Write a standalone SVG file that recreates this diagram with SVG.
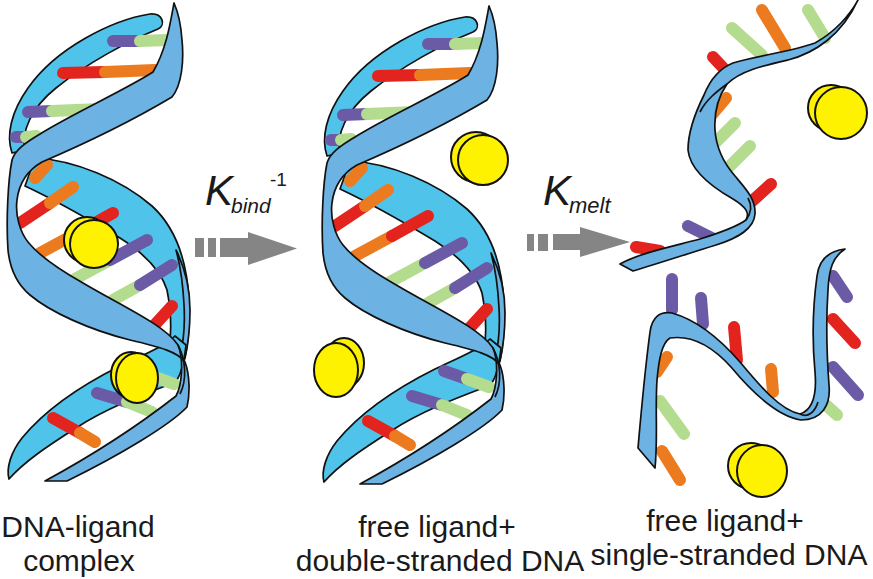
<svg xmlns="http://www.w3.org/2000/svg" width="873" height="579" viewBox="0 0 873 579">
<defs>
<style>
.cy{fill:#50c3ea;stroke:#111;stroke-width:1.7;stroke-linejoin:round}
.bl{fill:#6cb2e2;stroke:#111;stroke-width:1.7;stroke-linejoin:round}
.ln{fill:none;stroke:#111;stroke-width:1.7}
.b{fill:none;stroke-width:12;stroke-linecap:round}
.p{stroke:#6b5ba7}.g{stroke:#b4dc8e}.r{stroke:#e2231e}.o{stroke:#ec7b1f}
.lig{fill:#fff200;stroke:#111;stroke-width:2}
.lbl{font-family:"Liberation Sans",Arial,sans-serif;font-size:30px;fill:#1a1a1a;text-anchor:middle}
.k{font-family:"Liberation Sans",Arial,sans-serif;font-style:italic;fill:#1a1a1a}
.sup{font-family:"Liberation Sans",Arial,sans-serif;fill:#1a1a1a}
.arr{fill:#858585}
</style>
<g id="helix">
<path class="cy" d="M150,14 C112,20 56,48 28,88 C11,112 6,135 12,153 L25,150 C21,132 31,108 56,88 C86,64 126,42 158,29 C166,25 163,13 150,14 Z"/>
<path class="cy" d="M35,158 C75,160 122,180 152,206 C176,228 187,262 189,300 C190,325 188,345 184,362 L168,358 C172,335 171,310 167,290 C160,268 142,252 120,238 C90,220 55,200 25,186 Z"/>
<path class="bl" d="M176,250 C185,268 190,290 190,310 C190,330 188,345 185,358 L180,356 C184,340 185,322 184,305 C183,285 181,268 176,250 Z"/>
<path class="cy" d="M186,345 C184,362 182,372 176,382 C150,392 110,406 76,428 C46,447 24,462 9,479 C6,468 11,452 22,438 C45,410 82,385 120,366 C145,354 165,346 175,336 Z"/>
<line class="b p" x1="113" y1="41" x2="140" y2="41"/><line class="b g" x1="140" y1="41" x2="168" y2="40"/>
<line class="b r" x1="63" y1="73" x2="105" y2="72"/><line class="b o" x1="105" y1="72" x2="155" y2="70"/>
<line class="b p" x1="28" y1="112" x2="52" y2="111"/><line class="b g" x1="52" y1="111" x2="100" y2="109"/>
<line class="b p" x1="16" y1="137" x2="26" y2="137"/><line class="b g" x1="26" y1="137" x2="36" y2="136"/>
<line class="b o" x1="35" y1="178" x2="47" y2="165"/>
<line class="b r" x1="20" y1="223" x2="50" y2="203"/><line class="b o" x1="50" y1="203" x2="73" y2="187"/>
<line class="b o" x1="40" y1="253" x2="77" y2="233"/><line class="b r" x1="77" y1="233" x2="113" y2="213"/>
<line class="b g" x1="73" y1="280" x2="110" y2="260"/><line class="b p" x1="110" y1="260" x2="147" y2="240"/>
<line class="b g" x1="113" y1="300" x2="140" y2="285"/><line class="b p" x1="140" y1="285" x2="172" y2="265"/>
<line class="b r" x1="150" y1="330" x2="172" y2="306"/>
<line class="b p" x1="129" y1="368" x2="152" y2="376"/><line class="b g" x1="152" y1="376" x2="174" y2="384"/>
<line class="b p" x1="97" y1="393" x2="127" y2="402"/><line class="b g" x1="127" y1="402" x2="152" y2="412"/>
<line class="b r" x1="53" y1="418" x2="80" y2="433"/><line class="b o" x1="80" y1="433" x2="95" y2="442"/>
<path class="bl" d="M174,3 C170,25 166,50 153,72 C125,90 70,115 40,134 C25,143 15,150 12,160 C8,180 6,220 8,250 C10,270 18,285 30,295 C50,312 90,330 130,340 C160,347 178,352 185,362 C190,375 190,395 187,407 C170,425 120,455 67,481 L45,481 C80,462 130,432 176,396 C182,385 184,360 178,345 C165,325 120,305 83,283 C60,270 40,257 28,242 C20,232 15,215 17,200 C19,183 28,170 42,162 C70,150 125,125 172,97 C182,85 184,60 182,40 C181,25 178,12 174,3 Z"/>
<path class="ln" d="M178,345 C186,360 187,380 180,394"/>
</g>
</defs>
<g id="complex">
<use href="#helix"/>
<ellipse class="lig" cx="87" cy="240" rx="23" ry="23"/>
<ellipse class="lig" cx="94" cy="244" rx="24" ry="24"/>
<ellipse class="lig" cx="131" cy="375" rx="20" ry="23"/>
<ellipse class="lig" cx="137" cy="378" rx="21" ry="25"/>
<text class="lbl" x="78" y="537">DNA-ligand</text>
<text class="lbl" x="79" y="571">complex</text>
</g>
<g id="dsDNA">
<use href="#helix" transform="translate(315,3)"/>
<ellipse class="lig" cx="476" cy="157" rx="25" ry="25"/>
<ellipse class="lig" cx="483" cy="160" rx="25" ry="25"/>
<ellipse class="lig" cx="344" cy="363" rx="20" ry="25"/>
<ellipse class="lig" cx="336" cy="370" rx="22" ry="27"/>
<text class="lbl" x="437" y="537">free ligand+</text>
<text class="lbl" x="440" y="571">double-stranded DNA</text>
</g>
<g id="ssDNA">
<line class="b g" x1="732" y1="28" x2="762" y2="55"/>
<line class="b o" x1="762" y1="10" x2="785" y2="48"/>
<line class="b g" x1="808" y1="10" x2="825" y2="38"/>
<line class="b r" x1="713" y1="57" x2="728" y2="73"/>
<line class="b o" x1="726" y1="98" x2="710" y2="117"/>
<line class="b g" x1="735" y1="123" x2="715" y2="143"/>
<line class="b g" x1="750" y1="146" x2="730" y2="166"/>
<line class="b r" x1="771" y1="184" x2="750" y2="203"/>
<line class="b p" x1="688" y1="226" x2="712" y2="238"/>
<line class="b r" x1="636" y1="247" x2="660" y2="251"/>
<path class="bl" d="M858,0 C850,15 835,32 815,43 C790,52 755,56 733,63 C718,69 710,80 704,95 C694,115 688,132 688,150 C690,170 710,186 733,199 C746,207 750,213 746,220 C735,228 716,234 700,239 C670,247 640,253 620,264 L633,271 C660,263 690,253 716,245 C738,238 754,229 755,214 C756,199 745,188 735,176 C722,161 716,146 715,130 C714,114 718,97 727,84 C740,71 762,66 788,60 C815,53 842,35 858,0 Z"/>
<path class="ln" d="M727,84 C716,92 706,100 700,112"/>
<path class="ln" d="M746,220 C752,212 752,205 748,198"/>
<line class="b p" x1="672" y1="279" x2="672" y2="310"/>
<line class="b p" x1="701" y1="298" x2="703" y2="324"/>
<line class="b r" x1="734" y1="327" x2="737" y2="360"/>
<line class="b o" x1="771" y1="369" x2="773" y2="392"/>
<line class="b p" x1="833" y1="276" x2="847" y2="297"/>
<line class="b r" x1="833" y1="319" x2="855" y2="343"/>
<line class="b p" x1="833" y1="367" x2="858" y2="395"/>
<line class="b g" x1="826" y1="405" x2="837" y2="415"/>
<line class="b o" x1="667" y1="357" x2="657" y2="372"/>
<line class="b g" x1="660" y1="401" x2="684" y2="434"/>
<line class="b o" x1="662" y1="451" x2="680" y2="480"/>
<path class="bl" d="M845,249 C828,251 819,260 817,276 C813,305 812,340 815,372 C817,395 812,410 800,414 C780,410 760,386 740,362 C720,339 697,320 672,313 C660,311 652,317 650,332 C646,362 642,402 638,448 L655,468 C658,440 655,410 657,380 C659,358 662,343 670,338 C691,335 712,346 731,367 C751,391 776,416 801,420 C822,420 831,405 829,385 C827,358 826,320 828,290 C829,268 833,257 845,249 Z"/>
<path class="ln" d="M800,414 C808,418 815,412 818,402"/>
<ellipse class="lig" cx="831" cy="108" rx="23" ry="23"/>
<ellipse class="lig" cx="841" cy="113" rx="26" ry="26"/>
<ellipse class="lig" cx="751" cy="466" rx="23" ry="23"/>
<ellipse class="lig" cx="762" cy="471" rx="25" ry="26"/>
<text class="lbl" x="725" y="531">free ligand+</text>
<text class="lbl" x="729" y="565">single-stranded DNA</text>
</g>
<g id="connectors">
<g id="arrow-bind">
<rect class="arr" x="195" y="238" width="9" height="19"/>
<rect class="arr" x="208" y="238" width="8" height="19"/>
<path class="arr" d="M220,238 H248 V232 L297,248.5 L248,265 V257 H220 Z"/>
<text class="k" x="205" y="205" font-size="42">K</text>
<text class="k" x="231" y="213" font-size="21">bind</text>
<text class="sup" x="270" y="186" font-size="19">-1</text>
</g>
<g id="arrow-melt">
<rect class="arr" x="527" y="234" width="7" height="17"/>
<rect class="arr" x="538" y="234" width="10" height="17"/>
<path class="arr" d="M553,234 H580 V227 L630,242 L580,257 V250 H553 Z"/>
<text class="k" x="543" y="205" font-size="42">K</text>
<text class="k" x="569" y="213" font-size="22">melt</text>
</g>
</g>
</svg>
